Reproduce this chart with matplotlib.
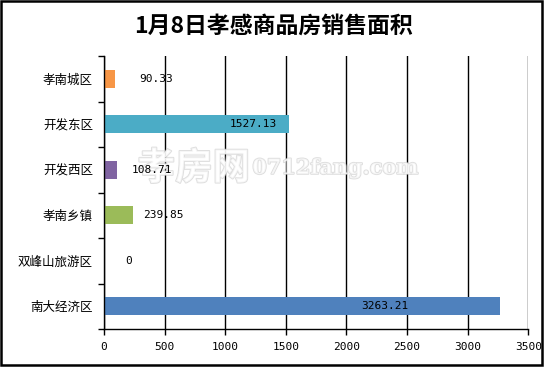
import matplotlib
matplotlib.use('Agg')
import matplotlib.pyplot as plt
import matplotlib.patheffects as pe
from matplotlib.patches import Rectangle
import numpy as np

plt.rcParams['font.family'] = ['Noto Sans CJK SC', 'DejaVu Sans']

title = '1月8日孝感商品房销售面积'
districts = ['孝南城区', '开发东区', '开发西区', '孝南乡镇', '双峰山旅游区', '南大经济区']
areas = [90.33, 1527.13, 108.71, 239.85, 0, 3263.21]
value_labels = ['90.33', '1527.13', '108.71', '239.85', '0', '3263.21']
bar_colors = ['#F79646', '#4BACC6', '#8064A2', '#9BBB59', '#4F81BD', '#4F81BD']
# where Excel put each value label (data units along x)
label_x = [428, 1230, 395, 486, 202, 2317]
x_ticks = [0, 500, 1000, 1500, 2000, 2500, 3000, 3500]

fig = plt.figure(figsize=(5.46, 3.69), dpi=100)
ax = fig.add_axes([0.1905, 0.1084, 0.7771, 0.7398])

y = np.arange(len(districts))
ax.barh(y, areas, height=0.4, color=bar_colors, zorder=3)

for yi, xi, txt in zip(y, label_x, value_labels):
    ax.text(xi, yi, txt, ha='center', va='center', fontsize=8,
            family='DejaVu Sans Mono', zorder=6)

ax.set_xlim(0, 3500)
ax.set_ylim(len(districts) - 0.5, -0.5)
ax.set_xticks(x_ticks)
ax.set_xticklabels([str(t) for t in x_ticks], family='DejaVu Sans Mono', fontsize=8)
ax.set_yticks(y)
ax.set_yticklabels(districts, fontsize=9)
ax.set_yticks(np.arange(len(districts) + 1) - 0.5, minor=True)
ax.tick_params(axis='y', which='major', length=0, pad=8)
ax.tick_params(axis='y', which='minor', length=4, width=1, direction='out')
ax.tick_params(axis='x', length=4, width=1, direction='out', pad=5)

ax.grid(axis='x', color='black', lw=1, zorder=1)
ax.set_axisbelow(True)
for s in ['top', 'right']:
    ax.spines[s].set_visible(False)
for s in ['left', 'bottom']:
    ax.spines[s].set_linewidth(1)
    ax.spines[s].set_zorder(4)

# watermark, kept inside the axes so the value labels stay on top
wm = dict(color='white', alpha=0.7, zorder=5, transform=fig.transFigure, clip_on=False,
          path_effects=[pe.withStroke(linewidth=1.3, foreground='#d0d0d0')])
ax.text(0.355, 0.545, '孝房网', fontsize=27, weight='bold', ha='center', va='center', **wm)
ax.text(0.615, 0.545, '0712fang.com', fontsize=15, weight='bold', ha='center', va='center',
        family='DejaVu Serif', **wm)

fig.text(0.5, 0.93, title, fontsize=16.5, weight='bold', ha='center', va='center')

fig.patches.append(Rectangle((0.002, 0.0095), 0.991, 0.988, transform=fig.transFigure,
                             fill=False, edgecolor='black', lw=1.8))

fig.savefig('out.png', dpi=100)
